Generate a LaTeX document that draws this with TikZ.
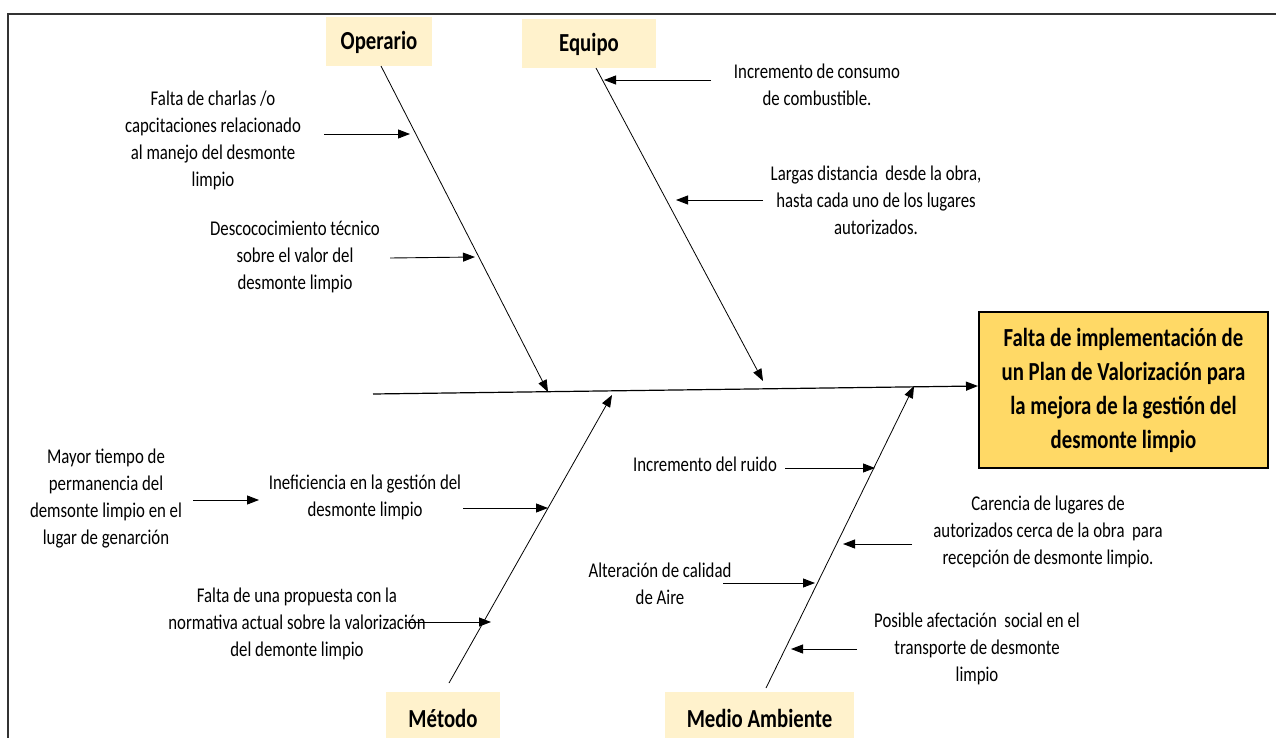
\documentclass[tikz,border=0pt]{standalone}
\usepackage{fontspec}
\setmainfont{Carlito}[FakeStretch=0.8]
\usetikzlibrary{arrows.meta}
\definecolor{titlefill}{HTML}{FFF2CC}
\definecolor{effectfill}{HTML}{FFD966}
\begin{document}
\begin{tikzpicture}[x=1pt,y=-1pt,
  lbl/.style={align=center,inner sep=0pt,font=\fontsize{21}{27}\selectfont},
  cat/.style={fill=titlefill,inner sep=0pt,font=\bfseries\fontsize{26}{30}\selectfont},
  arr/.style={-{Triangle[length=12pt,width=9pt]},line width=0.9pt},
  bone/.style={-{Triangle[length=12pt,width=9pt]},line width=0.8pt},
  frame/.style={line width=2pt,black!80}]
\useasboundingbox (0,0) rectangle (1276,738);
% frame
\coordinate (fA) at (8,760);
\coordinate (fB) at (8,14);
\coordinate (fC) at (1290,14);
\draw[frame] (fA) -- (fB) -- (fC);

% category boxes
\node[cat,minimum width=106pt,minimum height=49pt] (op) at (379,42) {Operario};
\node[cat,minimum width=134pt,minimum height=49pt] (eq) at (589,44) {Equipo};
\node[cat,minimum width=114pt,minimum height=52pt] (me) at (443,718) {Método};
\node[cat,minimum width=189pt,minimum height=52pt] (ma) at (759.5,718) {Medio Ambiente};

% effect
\node[draw=black,line width=2pt,fill=effectfill,minimum width=289pt,minimum height=156pt,
      align=center,inner sep=0pt,font=\bfseries\fontsize{26}{34}\selectfont] (ef) at (1123.5,390)
  {Falta de implementación de\\un Plan de Valorización para\\la mejora de la gestión del\\desmonte limpio};

% spine
\coordinate (sp0) at (373,394);
\draw[arr,line width=1.2pt] (sp0) -- (ef.west |- 0,386);

% bones
\coordinate (opS) at (381,66);   \coordinate (opT) at (548,392);
\coordinate (eqS) at (596,68);   \coordinate (eqT) at (763,381);
\coordinate (meS) at (449,683);  \coordinate (meT) at (612,395);
\coordinate (maS) at (766,688);  \coordinate (maT) at (914,386);
\draw[bone] (opS) -- (opT);
\draw[bone] (eqS) -- (eqT);
\draw[bone] (meS) -- (meT);
\draw[bone] (maS) -- (maT);

% Operario causes
\node[lbl] (c1) at (213,140) {Falta de charlas /o\\capcitaciones relacionado\\al manejo del desmonte\\limpio};
\coordinate (c1a) at (324,134); \coordinate (c1b) at (410,134);
\draw[arr] (c1a) -- (c1b);
\node[lbl] (c2) at (295,257) {Descococimiento técnico\\sobre el valor del\\desmonte limpio};
\coordinate (c2a) at (390,258); \coordinate (c2b) at (475,257);
\draw[arr] (c2a) -- (c2b);

% Equipo causes
\node[lbl] (c3) at (817,85) {Incremento de consumo\\de combustible.};
\coordinate (c3a) at (711,80); \coordinate (c3b) at (604,80);
\draw[arr] (c3a) -- (c3b);
\node[lbl] (c4) at (876,200) {Largas distancia\ \ desde la obra,\\hasta cada uno de los lugares\\autorizados.};
\coordinate (c4a) at (763,200); \coordinate (c4b) at (676,200);
\draw[arr] (c4a) -- (c4b);

% Metodo causes
\node[lbl] (c5) at (106,499) {Mayor tiempo de\\permanencia del\\demsonte limpio en el\\lugar de genarción};
\node[lbl] (c6) at (365,497) {Ineficiencia en la gestión del\\desmonte limpio};
\coordinate (c5a) at (193,500); \coordinate (c5b) at (259,500);
\draw[arr] (c5a) -- (c5b);
\coordinate (c6a) at (463,508); \coordinate (c6b) at (548,508);
\draw[arr] (c6a) -- (c6b);
\node[lbl] (c7) at (297,624) {Falta de una propuesta con la\\normativa actual sobre la valorización\\del demonte limpio};
\coordinate (c7a) at (405,622); \coordinate (c7b) at (491,622);
\draw[arr] (c7a) -- (c7b);

% Medio Ambiente causes
\node[lbl] (c8) at (705,464) {Incremento del ruido};
\coordinate (c8a) at (785,468); \coordinate (c8b) at (875,468);
\draw[arr] (c8a) -- (c8b);
\node[lbl] (c9) at (1048,532) {Carencia de lugares de\\autorizados cerca de la obra\ \ para\\recepción de desmonte limpio.};
\coordinate (c9a) at (912,544); \coordinate (c9b) at (843,544);
\draw[arr] (c9a) -- (c9b);
\node[lbl] (c10) at (660,584) {Alteración de calidad\\de Aire};
\coordinate (c10a) at (723,583); \coordinate (c10b) at (815,583);
\draw[arr] (c10a) -- (c10b);
\node[lbl] (c11) at (977,649) {Posible afectación\ \ social en el\\transporte de desmonte\\limpio};
\coordinate (c11a) at (857,649); \coordinate (c11b) at (791,649);
\draw[arr] (c11a) -- (c11b);
\end{tikzpicture}
\end{document}
